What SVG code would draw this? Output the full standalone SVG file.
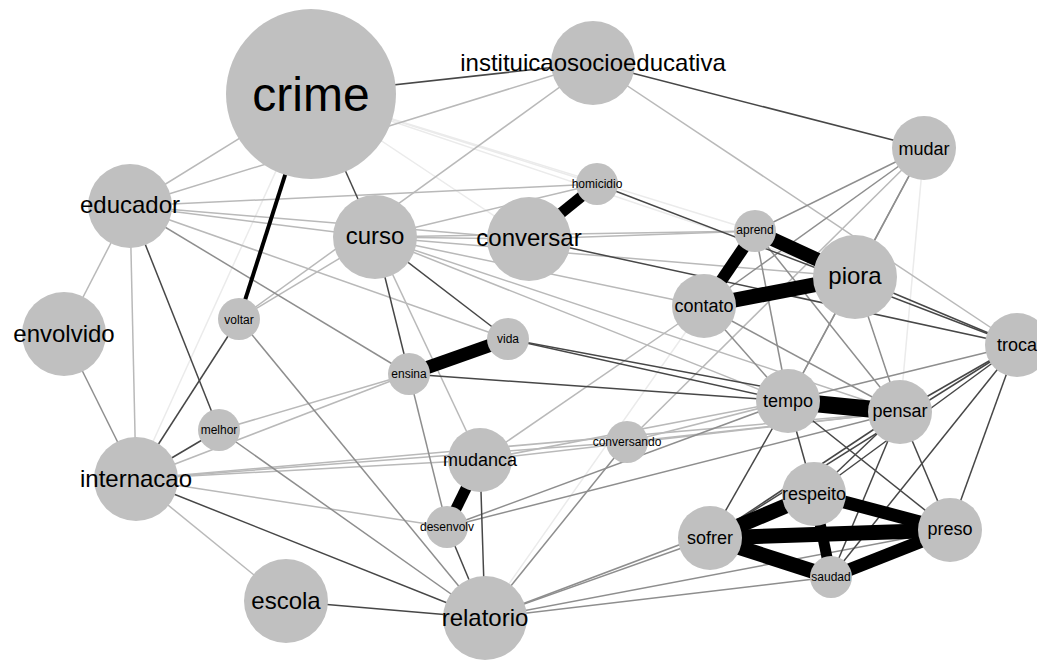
<svg xmlns="http://www.w3.org/2000/svg" width="1037" height="660" viewBox="0 0 1037 660">
<style>
line{stroke-width:1.5;fill:none}
.k{stroke:#000}
.d{stroke:#474747}
.m{stroke:#8e8e8e}
.l{stroke:#b9b9b9}
.f{stroke:#ebebeb}
circle{fill:#c0c0c0}
text{font-family:"Liberation Sans",Arial,sans-serif;fill:#000;text-anchor:middle}
.s12{font-size:12px}
.s18{font-size:18px}
.s24{font-size:24px}
.s48{font-size:48px}
</style>
<rect width="1037" height="660" fill="#fff"/>
<g id="edges">
<!-- faint -->
<line class="f" x1="311" y1="94" x2="136" y2="479"/>
<line class="f" x1="311" y1="94" x2="529" y2="239"/>
<line class="f" x1="311" y1="94" x2="597" y2="184"/>
<line class="f" x1="311" y1="94" x2="755" y2="231"/>
<line class="f" x1="311" y1="94" x2="855" y2="277"/>
<line class="f" x1="924" y1="148" x2="900" y2="412"/>
<line class="f" x1="485" y1="618" x2="704" y2="306"/>
<!-- light -->
<line class="l" x1="311" y1="94" x2="130" y2="206"/>
<line class="l" x1="593" y1="63" x2="130" y2="206"/>
<line class="l" x1="593" y1="63" x2="239" y2="319"/>
<line class="l" x1="593" y1="63" x2="1017" y2="345"/>
<line class="l" x1="924" y1="148" x2="627" y2="442"/>
<line class="l" x1="597" y1="184" x2="130" y2="206"/>
<line class="l" x1="597" y1="184" x2="375" y2="237"/>
<line class="l" x1="529" y1="239" x2="375" y2="237"/>
<line class="l" x1="529" y1="239" x2="755" y2="231"/>
<line class="l" x1="375" y1="237" x2="130" y2="206"/>
<line class="l" x1="375" y1="237" x2="239" y2="319"/>
<line class="l" x1="375" y1="237" x2="755" y2="231"/>
<line class="l" x1="375" y1="237" x2="855" y2="277"/>
<line class="l" x1="375" y1="237" x2="704" y2="306"/>
<line class="l" x1="375" y1="237" x2="788" y2="401"/>
<line class="l" x1="375" y1="237" x2="900" y2="412"/>
<line class="l" x1="375" y1="237" x2="480" y2="460"/>
<line class="l" x1="130" y1="206" x2="529" y2="239"/>
<line class="l" x1="130" y1="206" x2="64" y2="334"/>
<line class="l" x1="130" y1="206" x2="136" y2="479"/>
<line class="l" x1="130" y1="206" x2="508" y2="339"/>
<line class="l" x1="136" y1="479" x2="409" y2="374"/>
<line class="l" x1="136" y1="479" x2="480" y2="460"/>
<line class="l" x1="136" y1="479" x2="627" y2="442"/>
<line class="l" x1="136" y1="479" x2="900" y2="412"/>
<line class="l" x1="136" y1="479" x2="447" y2="527"/>
<line class="l" x1="136" y1="479" x2="286" y2="601"/>
<line class="l" x1="219" y1="430" x2="409" y2="374"/>
<line class="l" x1="480" y1="460" x2="704" y2="306"/>
<line class="l" x1="480" y1="460" x2="788" y2="401"/>
<line class="l" x1="480" y1="460" x2="900" y2="412"/>
<line class="l" x1="627" y1="442" x2="788" y2="401"/>
<line class="l" x1="627" y1="442" x2="900" y2="412"/>
<!-- medium -->
<line class="m" x1="924" y1="148" x2="755" y2="231"/>
<line class="m" x1="924" y1="148" x2="704" y2="306"/>
<line class="m" x1="924" y1="148" x2="788" y2="401"/>
<line class="m" x1="924" y1="148" x2="855" y2="277"/>
<line class="m" x1="130" y1="206" x2="409" y2="374"/>
<line class="m" x1="239" y1="319" x2="485" y2="618"/>
<line class="m" x1="136" y1="479" x2="64" y2="334"/>
<line class="m" x1="219" y1="430" x2="485" y2="618"/>
<line class="m" x1="409" y1="374" x2="447" y2="527"/>
<line class="m" x1="447" y1="527" x2="900" y2="412"/>
<line class="m" x1="447" y1="527" x2="788" y2="401"/>
<line class="m" x1="485" y1="618" x2="627" y2="442"/>
<line class="m" x1="485" y1="618" x2="710" y2="538"/>
<line class="m" x1="485" y1="618" x2="814" y2="494"/>
<line class="m" x1="485" y1="618" x2="950" y2="530"/>
<line class="m" x1="485" y1="618" x2="831" y2="577"/>
<line class="m" x1="788" y1="401" x2="704" y2="306"/>
<line class="m" x1="788" y1="401" x2="755" y2="231"/>
<line class="m" x1="788" y1="401" x2="855" y2="277"/>
<line class="m" x1="788" y1="401" x2="1017" y2="345"/>
<line class="m" x1="900" y1="412" x2="855" y2="277"/>
<line class="m" x1="900" y1="412" x2="755" y2="231"/>
<line class="m" x1="900" y1="412" x2="704" y2="306"/>
<!-- dark -->
<line class="d" x1="311" y1="94" x2="593" y2="63"/>
<line class="d" x1="311" y1="94" x2="375" y2="237"/>
<line class="d" x1="593" y1="63" x2="924" y2="148"/>
<line class="d" x1="597" y1="184" x2="1017" y2="345"/>
<line class="d" x1="529" y1="239" x2="1017" y2="345"/>
<line class="d" x1="375" y1="237" x2="508" y2="339"/>
<line class="d" x1="375" y1="237" x2="409" y2="374"/>
<line class="d" x1="130" y1="206" x2="219" y2="430"/>
<line class="d" x1="239" y1="319" x2="136" y2="479"/>
<line class="d" x1="136" y1="479" x2="219" y2="430"/>
<line class="d" x1="136" y1="479" x2="485" y2="618"/>
<line class="d" x1="409" y1="374" x2="788" y2="401"/>
<line class="d" x1="508" y1="339" x2="788" y2="401"/>
<line class="d" x1="508" y1="339" x2="900" y2="412"/>
<line class="d" x1="480" y1="460" x2="485" y2="618"/>
<line class="d" x1="447" y1="527" x2="485" y2="618"/>
<line class="d" x1="485" y1="618" x2="286" y2="601"/>
<line class="d" x1="788" y1="401" x2="814" y2="494"/>
<line class="d" x1="788" y1="401" x2="710" y2="538"/>
<line class="d" x1="788" y1="401" x2="950" y2="530"/>
<line class="d" x1="900" y1="412" x2="1017" y2="345"/>
<line class="d" x1="900" y1="412" x2="814" y2="494"/>
<line class="d" x1="900" y1="412" x2="710" y2="538"/>
<line class="d" x1="900" y1="412" x2="831" y2="577"/>
<line class="d" x1="900" y1="412" x2="950" y2="530"/>
<line class="d" x1="1017" y1="345" x2="855" y2="277"/>
<line class="d" x1="1017" y1="345" x2="814" y2="494"/>
<line class="d" x1="1017" y1="345" x2="710" y2="538"/>
<line class="d" x1="1017" y1="345" x2="831" y2="577"/>
<line class="d" x1="1017" y1="345" x2="950" y2="530"/>
<!-- thick -->
<line class="k" style="stroke-width:4" x1="311" y1="94" x2="239" y2="319"/>
<line class="k" style="stroke-width:11" x1="597" y1="184" x2="529" y2="239"/>
<line class="k" style="stroke-width:14" x1="755" y1="231" x2="855" y2="277"/>
<line class="k" style="stroke-width:12" x1="755" y1="231" x2="704" y2="306"/>
<line class="k" style="stroke-width:15" x1="704" y1="306" x2="855" y2="277"/>
<line class="k" style="stroke-width:13" x1="409" y1="374" x2="508" y2="339"/>
<line class="k" style="stroke-width:11" x1="480" y1="460" x2="447" y2="527"/>
<line class="k" style="stroke-width:17" x1="788" y1="401" x2="900" y2="412"/>
<line class="k" style="stroke-width:15" x1="710" y1="538" x2="814" y2="494"/>
<line class="k" style="stroke-width:13" x1="814" y1="494" x2="950" y2="530"/>
<line class="k" style="stroke-width:15" x1="710" y1="538" x2="950" y2="530"/>
<line class="k" style="stroke-width:15" x1="710" y1="538" x2="831" y2="577"/>
<line class="k" style="stroke-width:11" x1="814" y1="494" x2="831" y2="577"/>
<line class="k" style="stroke-width:13" x1="831" y1="577" x2="950" y2="530"/>
</g>
<g id="crime"><circle cx="311" cy="94" r="85"/><text class="s48" x="311" y="111">crime</text></g>
<g id="instituicaosocioeducativa"><circle cx="593" cy="63" r="42"/><text class="s24" x="593" y="71">instituicaosocioeducativa</text></g>
<g id="mudar"><circle cx="924" cy="148" r="32"/><text class="s18" x="924" y="155">mudar</text></g>
<g id="homicidio"><circle cx="597" cy="184" r="21"/><text class="s12" x="597" y="188">homicidio</text></g>
<g id="aprend"><circle cx="755" cy="231" r="21"/><text class="s12" x="755" y="234">aprend</text></g>
<g id="piora"><circle cx="855" cy="277" r="42"/><text class="s24" x="855" y="284">piora</text></g>
<g id="contato"><circle cx="704" cy="306" r="32"/><text class="s18" x="704" y="312">contato</text></g>
<g id="conversar"><circle cx="529" cy="239" r="42"/><text class="s24" x="529" y="246">conversar</text></g>
<g id="curso"><circle cx="375" cy="237" r="42"/><text class="s24" x="375" y="244">curso</text></g>
<g id="educador"><circle cx="130" cy="206" r="42"/><text class="s24" x="130" y="213">educador</text></g>
<g id="envolvido"><circle cx="64" cy="334" r="42"/><text class="s24" x="64" y="342">envolvido</text></g>
<g id="voltar"><circle cx="239" cy="319" r="21"/><text class="s12" x="239" y="324">voltar</text></g>
<g id="internacao"><circle cx="136" cy="479" r="42"/><text class="s24" x="136" y="487">internacao</text></g>
<g id="melhor"><circle cx="219" cy="430" r="21"/><text class="s12" x="219" y="434">melhor</text></g>
<g id="ensina"><circle cx="409" cy="374" r="21"/><text class="s12" x="409" y="378">ensina</text></g>
<g id="vida"><circle cx="508" cy="339" r="21"/><text class="s12" x="508" y="343">vida</text></g>
<g id="mudanca"><circle cx="480" cy="460" r="32"/><text class="s18" x="480" y="466">mudanca</text></g>
<g id="desenvolv"><circle cx="447" cy="527" r="21"/><text class="s12" x="447" y="531">desenvolv</text></g>
<g id="escola"><circle cx="286" cy="601" r="42"/><text class="s24" x="286" y="609">escola</text></g>
<g id="relatorio"><circle cx="485" cy="618" r="42"/><text class="s24" x="485" y="626">relatorio</text></g>
<g id="conversando"><circle cx="627" cy="442" r="21"/><text class="s12" x="627" y="446">conversando</text></g>
<g id="tempo"><circle cx="788" cy="401" r="32"/><text class="s18" x="788" y="407">tempo</text></g>
<g id="pensar"><circle cx="900" cy="412" r="32"/><text class="s18" x="900" y="417">pensar</text></g>
<g id="troca"><circle cx="1017" cy="345" r="32"/><text class="s18" x="1017" y="351">troca</text></g>
<g id="respeito"><circle cx="814" cy="494" r="32"/><text class="s18" x="814" y="500">respeito</text></g>
<g id="sofrer"><circle cx="710" cy="538" r="32"/><text class="s18" x="710" y="544">sofrer</text></g>
<g id="preso"><circle cx="950" cy="530" r="32"/><text class="s18" x="950" y="535">preso</text></g>
<g id="saudad"><circle cx="831" cy="577" r="21"/><text class="s12" x="831" y="581">saudad</text></g>
</svg>
